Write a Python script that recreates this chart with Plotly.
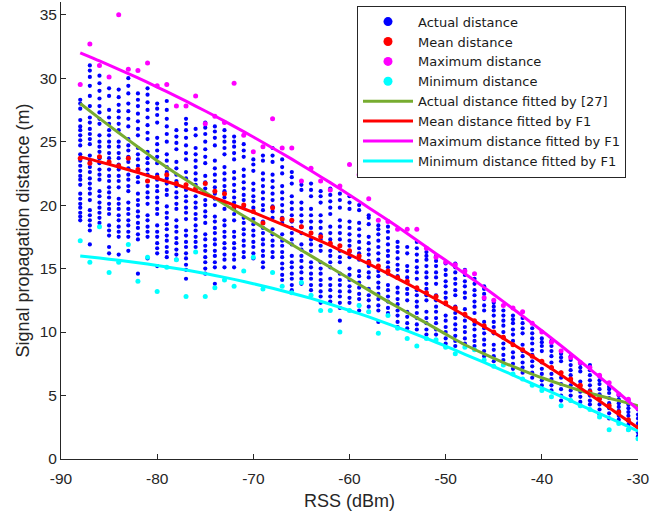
import plotly.graph_objects as go

# ---------------- data ----------------
rss = list(range(-88, -29))  # RSS columns (dBm)

actual_distance = [
    [18.8,19.1,19.4,19.8,20.1,20.5,20.9,21.6,22.0,22.3,22.7,23.1,23.5,24.0,24.7,25.1,25.5,25.9,26.2,26.7,27.6,28.0,28.3],  # -88
    [16.9,18.0,18.4,18.8,19.2,19.6,20.4,20.9,21.3,21.7,22.1,22.6,23.0,23.5,23.9,24.8,25.2,25.6,26.0,26.5,26.9,27.8,28.6,29.4,30.1,30.6,31.0],  # -87
    [18.6,19.0,19.4,19.8,20.2,20.7,21.1,22.0,22.4,22.8,23.3,23.7,24.2,24.6,25.0,25.5,26.4,26.8,27.3,27.8,28.4,29.0,29.6,30.2],  # -86
    [16.2,16.7,17.6,18.0,18.4,19.3,19.7,20.1,20.6,21.0,21.4,21.9,22.3,22.8,23.7,24.1,24.6,25.0,25.5,25.9,26.4,26.9,27.5,28.6,29.2],  # -85
    [16.1,17.5,17.9,18.3,18.8,19.2,19.7,20.1,20.5,21.4,21.9,22.3,22.8,23.2,23.7,24.1,24.6,25.0,25.9,26.4,26.9,27.4,27.9,28.5,29.1],  # -84
    [16.4,17.5,17.9,18.4,18.8,19.3,19.7,20.2,21.1,21.5,22.0,22.4,22.9,23.4,23.8,24.3,24.7,25.2,26.2,26.8,27.4,28.0,28.8,29.4,30.0],  # -83
    [14.6,17.3,17.7,18.2,18.6,19.1,19.5,20.0,20.4,20.9,21.8,22.2,22.7,23.1,23.6,24.0,24.5,25.5,26.0,26.6,27.2,27.8,28.3,28.8],  # -82
    [15.8,17.5,17.9,18.3,18.8,19.2,20.1,20.6,21.0,21.5,21.9,22.4,22.8,23.3,23.7,24.2,25.2,25.7,26.3,26.9,27.5,28.1,28.7,29.2],  # -81
    [15.2,16.2,16.6,17.0,17.5,17.9,18.4,19.3,19.7,20.2,20.6,21.1,21.5,22.0,22.4,23.3,23.8,24.3,24.8,25.3,26.5,27.1,27.6,28.0],  # -80
    [15.9,16.3,16.7,17.2,17.6,18.1,18.5,19.0,19.4,19.9,20.8,21.2,21.7,22.1,22.6,23.0,23.5,24.0,25.0,25.6,26.2,26.8,27.5,28.2],  # -79
    [15.7,16.1,16.5,17.0,17.4,17.9,18.3,18.8,19.7,20.1,20.6,21.0,21.5,21.9,22.4,22.9,23.4,24.4,24.9,25.4,25.9],  # -78
    [14.2,14.9,15.3,15.8,16.2,16.7,17.1,17.6,18.0,18.9,19.4,19.8,20.3,20.7,21.2,21.6,22.1,22.6,23.6,24.1,24.7,25.3,25.9,26.4,26.8],  # -77
    [16.7,17.1,17.5,18.0,18.4,18.9,19.3,19.8,20.2,20.7,21.6,22.0,22.5,23.0,23.5,24.0,24.5,25.5,26.0],  # -76
    [14.6,15.0,15.5,15.9,16.4,16.8,17.3,17.7,18.6,19.1,19.5,20.0,20.4,20.9,21.3,21.8,22.3,23.3,23.8,24.4,25.0,25.6,26.1,26.5],  # -75
    [13.8,15.1,15.5,16.0,16.4,16.9,17.3,17.8,18.2,18.7,19.1,20.0,20.5,20.9,21.4,21.9,22.4,22.9,23.5,24.7,25.3,25.8,26.2],  # -74
    [15.1,15.7,16.1,16.6,17.0,17.5,17.9,18.4,18.8,19.7,20.2,20.6,21.1,21.5,22.0,22.5,23.0,24.0,24.5,25.0,25.4,25.9],  # -73
    [15.1,15.7,16.1,16.6,17.0,17.5,17.9,18.8,19.3,19.7,20.2,20.6,21.1,21.6,22.1,22.6,23.6,24.1,24.6,25.0,25.4],  # -72
    [15.9,16.3,16.8,17.2,17.7,18.1,18.6,19.0,19.9,20.4,20.8,21.3,21.8,22.3,22.8,23.8,24.3,24.8],  # -71
    [15.8,16.2,16.7,17.1,17.6,18.0,18.5,18.9,19.8,20.3,20.7,21.2,21.7,22.7,23.2,23.6],  # -70
    [15.1,15.5,16.0,16.4,16.9,17.3,17.8,18.2,18.7,19.6,20.0,20.5,21.0,21.5,22.0,22.5,23.5,23.9],  # -69
    [15.9,16.3,16.8,17.2,17.7,18.1,19.0,19.5,19.9,20.4,20.9,21.4,21.9,22.4,23.4,23.9,24.5],  # -68
    [14.1,14.5,15.0,15.4,15.9,16.3,16.8,17.2,17.7,18.6,19.0,19.5,20.0,20.5,21.0,21.5,22.5,23.0,23.6],  # -67
    [13.3,13.7,14.2,14.6,15.1,15.5,16.0,16.9,17.3,17.8,18.2,18.7,19.2,19.7,20.2,20.7,21.7,22.2,22.6],  # -66
    [13.8,14.2,14.7,15.1,15.6,16.0,16.5,16.9,17.8,18.3,18.7,19.2,19.7,20.2,21.2,21.6],  # -65
    [13.3,13.7,14.2,14.6,15.1,15.5,16.4,16.9,17.3,17.8,18.2,18.7,19.2,19.7,20.7,21.2,21.7],  # -64
    [12.3,12.8,13.2,13.7,14.1,14.6,15.0,15.5,16.4,16.8,17.3,17.7,18.2,18.7,19.2,20.2,20.7,21.1],  # -63
    [12.4,12.8,13.3,13.7,14.2,15.1,15.5,16.0,16.4,16.9,17.3,17.8,18.3,19.3,19.8,20.3,20.8,21.3],  # -62
    [10.9,11.9,12.3,12.8,13.2,13.7,14.1,14.6,15.5,15.9,16.4,16.8,17.3,17.8,18.3,18.8,19.8,20.4,20.9],  # -61
    [12.3,12.7,13.2,13.6,14.1,14.5,15.0,15.9,16.3,16.8,17.2,17.7,18.2,18.7,19.7,20.2,20.7],  # -60
    [11.7,12.1,12.6,13.0,13.5,13.9,14.4,14.8,15.7,16.2,16.6,17.1,17.6,18.1,18.6,19.6,20.0],  # -59
    [11.6,12.0,12.5,12.9,13.4,14.3,14.7,15.2,15.6,16.1,16.5,17.0,17.5,18.5,19.0,19.2],  # -58
    [10.8,11.7,12.1,12.6,13.0,13.5,13.9,14.4,14.8,15.7,16.2,16.7,17.2,17.7,18.1,18.4],  # -57
    [11.5,11.9,12.4,12.8,13.3,13.7,14.6,15.1,15.5,16.0,16.4,16.9,17.4,17.9,18.3],  # -56
    [10.4,10.8,11.3,11.7,12.2,12.6,13.1,13.5,14.4,14.9,15.3,15.8,16.3,16.7,17.1],  # -55
    [10.3,10.7,11.2,11.6,12.5,13.0,13.4,13.9,14.3,14.8,15.2,16.2,16.7],  # -54
    [10.2,10.6,11.1,11.5,12.0,12.4,12.9,13.3,14.2,14.7,15.1,15.6,16.1,16.6,17.1],  # -53
    [9.8,10.2,10.7,11.1,11.6,12.5,12.9,13.4,13.8,14.3,14.7,15.2,15.7,16.0,16.3],  # -52
    [9.8,10.2,10.7,11.1,11.6,12.0,12.5,12.9,13.8,14.3,14.7,15.2,15.6,16.0],  # -51
    [9.1,9.5,10.0,10.4,10.9,11.3,12.2,12.7,13.1,13.6,14.0,14.5,14.9,15.4],  # -50
    [8.9,9.3,9.7,10.2,10.6,11.1,11.5,12.0,12.9,13.3,13.8,14.2,14.7,15.1,15.4],  # -49
    [9.1,9.5,10.0,10.4,10.9,11.3,11.8,12.7,13.1,13.6,14.0,14.5,14.9],  # -48
    [8.9,9.3,9.7,10.2,10.6,11.5,12.0,12.4,12.9,13.3,13.8,14.2],  # -47
    [8.1,8.5,9.0,9.4,9.9,10.3,10.8,11.7,12.1,12.6,13.0,13.4,13.6],  # -46
    [7.7,8.1,8.6,9.0,9.9,10.4,10.8,11.3,11.7,12.0,12.3],  # -45
    [7.8,8.2,8.7,9.1,9.6,10.0,10.5,10.9,11.3,11.7],  # -44
    [7.1,7.5,8.0,8.4,9.3,9.8,10.2,10.7,11.0,11.3],  # -43
    [6.8,7.2,7.6,8.1,8.5,9.0,9.9,10.3,10.7,11.1],  # -42
    [6.4,6.8,7.3,7.7,8.2,8.6,9.1,9.5,9.9,10.3],  # -41
    [5.8,6.2,6.7,7.1,7.6,8.5,8.9,9.2,9.5],  # -40
    [5.4,5.8,6.3,6.7,7.2,7.6,8.1,8.5,8.9,9.3],  # -39
    [4.6,5.0,5.5,5.9,6.4,6.8,7.7,8.0,8.3],  # -38
    [4.6,5.0,5.4,5.8,6.2,6.6,7.0,7.4,7.8,8.1],  # -37
    [4.5,4.9,5.3,5.7,6.1,6.9,7.2,7.5],  # -36
    [4.3,4.6,5.0,5.4,5.8,6.2,6.6,7.0,7.4],  # -35
    [3.5,3.9,4.3,4.7,5.1,5.5,5.9,6.2,6.5],  # -34
    [3.2,3.6,4.0,4.4,4.8,5.2,5.5,5.7],  # -33
    [3.1,3.4,3.8,4.1,4.4,4.7,5.0],  # -32
    [2.3,2.7,3.0,3.4,3.7,4.0,4.3,4.6],  # -31
    [1.8,2.1,2.5,2.8,3.2,3.5,3.9],  # -30
]

mean_distance = [23.7,23.3,23.8,23.4,23.1,23.7,22.8,21.9,22.2,22.4,21.7,21.6,21.3,21.7,21.1,20.9,19.9,20.0,19.5,18.6,
                 19.8,18.9,18.8,18.3,17.8,17.5,17.0,16.8,16.4,16.0,15.5,15.2,14.8,14.3,14.0,13.5,13.1,12.8,12.3,11.9,
                 11.4,10.9,10.5,10.0,9.6,9.0,8.6,8.1,7.7,7.2,6.8,6.3,5.8,5.3,4.8,4.2,3.7,3.1,2.5]
max_distance = [29.5,32.7,31.0,30.1,35.0,30.7,30.6,31.2,29.4,29.5,27.8,27.8,28.6,26.4,27.0,26.5,29.6,25.5,24.2,24.6,
                26.8,24.5,24.5,21.9,22.9,21.9,21.2,21.5,23.2,22.4,20.5,18.8,18.7,18.1,18.1,18.1,16.6,15.9,15.5,15.3,
                14.8,14.6,12.7,12.5,12.1,11.9,11.6,10.7,10.0,9.2,8.5,8.0,7.6,7.2,6.6,6.0,5.1,4.7,4.0]
min_distance = [17.2,15.5,18.3,14.7,15.5,16.9,14.0,15.9,13.2,15.1,15.7,12.8,16.3,12.8,13.5,14.1,13.6,14.8,15.9,13.4,
                14.7,13.6,13.1,13.9,12.9,11.7,11.7,10.0,11.7,12.1,11.6,9.9,11.3,10.3,9.5,8.9,9.5,9.4,8.8,8.3,
                8.8,8.6,7.8,7.3,7.4,6.7,6.3,5.8,5.4,4.9,4.2,4.6,4.2,3.9,3.3,2.3,2.8,2.3,1.6]

fit_rss = list(range(-88, -29, 2))
actual_fit_27 = [28.0, 26.83, 25.7, 24.58, 23.5, 22.48, 21.5, 20.54, 19.6, 18.69, 17.8, 16.9, 16.0, 15.1, 14.2,
                 13.3, 12.4, 11.54, 10.7, 9.84, 9.0, 8.28, 7.6, 6.98, 6.4, 5.88, 5.4, 4.98, 4.6, 4.2]
mean_fit_f1 = [23.8, 23.42, 23.0, 22.57, 22.1, 21.62, 21.1, 20.57, 20.0, 19.42, 18.8, 18.17, 17.5, 16.82, 16.1,
               15.37, 14.6, 13.82, 13.0, 12.17, 11.3, 10.42, 9.5, 8.57, 7.6, 6.62, 5.6, 4.57, 3.5, 2.45]
max_fit_f1 = [32.0, 31.37, 30.7, 30.02, 29.3, 28.57, 27.8, 27.02, 26.2, 25.37, 24.5, 23.62, 22.7, 21.77, 20.8,
              19.8, 18.8, 17.77, 16.7, 15.65, 14.6, 13.52, 12.4, 11.27, 10.1, 8.92, 7.7, 6.47, 5.2, 3.9]
min_fit_f1 = [16.0, 15.83, 15.65, 15.46, 15.25, 15.01, 14.75, 14.46, 14.15, 13.81, 13.45, 13.06, 12.65, 12.19, 11.7,
              11.19, 10.65, 10.09, 9.5, 8.89, 8.25, 7.61, 6.95, 6.28, 5.6, 4.93, 4.25, 3.58, 2.9, 2.2]

x_ticks = [-90, -80, -70, -60, -50, -40, -30]
x_tick_text = ["-90", "-80", "-70", "-60", "-50", "-40", "-30"]
y_ticks = [0, 5, 10, 15, 20, 25, 30, 35]

# ---------------- figure ----------------
FONT = "Liberation Sans, Arial, Helvetica, sans-serif"
AX = "#262626"
GREEN = "#77AC30"

actual_x = [r for r, col in zip(rss, actual_distance) for _ in col]
actual_y = [v for col in actual_distance for v in col]

fig = go.Figure()

fig.add_trace(go.Scatter(x=actual_x, y=actual_y, mode="markers", showlegend=False,
                         marker=dict(color="#0000FF", size=4.2, line=dict(width=0))))
fig.add_trace(go.Scatter(x=rss, y=mean_distance, mode="markers", showlegend=False,
                         marker=dict(color="#FF0000", size=5, line=dict(width=0))))
fig.add_trace(go.Scatter(x=rss, y=max_distance, mode="markers", showlegend=False,
                         marker=dict(color="#FF00FF", size=5, line=dict(width=0))))
fig.add_trace(go.Scatter(x=rss, y=min_distance, mode="markers", showlegend=False,
                         marker=dict(color="#00FFFF", size=5, line=dict(width=0))))

for vals, c in [(actual_fit_27, GREEN), (mean_fit_f1, "#FF0000"),
                (max_fit_f1, "#FF00FF"), (min_fit_f1, "#00FFFF")]:
    fig.add_trace(go.Scatter(x=fit_rss, y=vals, mode="lines", showlegend=False,
                             line=dict(color=c, width=3, shape="spline", smoothing=0.6)))

# legend entries
legend_markers = [("Actual distance", "#0000FF"), ("Mean distance", "#FF0000"),
                  ("Maximum distance", "#FF00FF"), ("Minimum distance", "#00FFFF")]
for name, c in legend_markers:
    fig.add_trace(go.Scatter(x=[None], y=[None], mode="markers", name=name,
                             marker=dict(color=c, size=9)))
legend_lines = [("Actual distance fitted by [27]", GREEN), ("Mean distance fitted by F1", "#FF0000"),
                ("Maximum distance fitted by F1", "#FF00FF"), ("Minimum distance fitted by F1", "#00FFFF")]
for name, c in legend_lines:
    fig.add_trace(go.Scatter(x=[None], y=[None], mode="lines", name=name,
                             line=dict(color=c, width=3)))

fig.update_layout(
    width=660, height=512,
    margin=dict(l=61, r=22, t=2, b=53),
    paper_bgcolor="white", plot_bgcolor="white",
    font=dict(family=FONT, color=AX, size=15.5),
    legend=dict(x=0.513, y=0.992, xanchor="left", yanchor="top",
                bgcolor="white", bordercolor=AX, borderwidth=1,
                font=dict(size=13, family="DejaVu Sans, Liberation Sans, sans-serif", color="#1a1a1a"),
                itemwidth=50, traceorder="normal"),
    xaxis=dict(range=[-90, -30], tickvals=x_ticks, ticktext=x_tick_text, ticks="inside", ticklen=5,
               tickcolor=AX, showline=True, linecolor=AX, linewidth=1, showgrid=False, zeroline=False,
               tickfont=dict(size=15.5), automargin=False, ticklabelstandoff=5,
               title=dict(text="RSS (dBm)", font=dict(size=18), standoff=8)),
    yaxis=dict(range=[0, 36], tickvals=y_ticks, ticks="inside", ticklen=5, tickcolor=AX,
               showline=True, linecolor=AX, linewidth=1, showgrid=False, zeroline=False,
               tickfont=dict(size=15.5), automargin=False, ticklabeloverflow="allow",
               title=dict(text="Signal propagation distance (m)", font=dict(size=18), standoff=5)),
)

# remove the browser's default 8 px page margin so the figure sits at the window's corner
fig.write_html("out.html", config={"displayModeBar": False},
               post_script="document.body.style.margin='0';")
